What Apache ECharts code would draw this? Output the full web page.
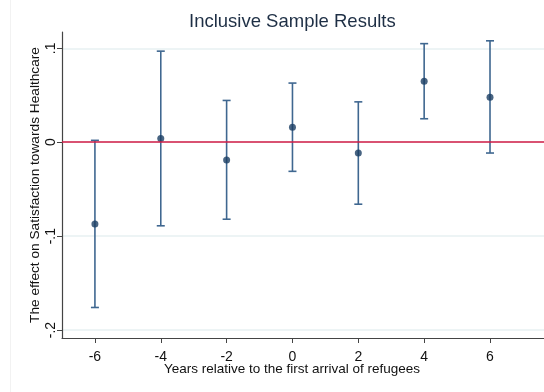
<!DOCTYPE html>
<html><head><meta charset="utf-8">
<script src="https://cdn.jsdelivr.net/npm/echarts@6/dist/echarts.min.js"></script>
<style>html,body{margin:0;padding:0;background:#fff}#c{width:544px;height:392px}</style>
</head><body><div id="c"></div>
<script>
const years = [-6, -4, -2, 0, 2, 4, 6];
const estimates = [-0.087, 0.004, -0.019, 0.016, -0.0115, 0.065, 0.048];
const upperCI = [0.002, 0.097, 0.0445, 0.063, 0.043, 0.105, 0.108];
const lowerCI = [-0.176, -0.089, -0.082, -0.031, -0.066, 0.025, -0.0115];
const xTicks = [-6, -4, -2, 0, 2, 4, 6];
const yTicks = [-0.2, -0.1, 0, 0.1];

function fmtY(v) {
  const r = Math.round(v * 10) / 10;
  if (r === 0) return '0';
  return (r < 0 ? '-' : '') + '.' + Math.round(Math.abs(r) * 10);
}

const barData = years.map((x, i) => [x, lowerCI[i], upperCI[i]]);
const pointData = years.map((x, i) => [x, estimates[i]]);

const chart = echarts.init(document.getElementById('c'), null, {renderer: 'canvas'});
chart.setOption({
  animation: false,
  backgroundColor: '#ffffff',
  title: {
    text: 'Inclusive Sample Results',
    left: 184, top: 7,
    textStyle: {fontFamily: 'Liberation Sans, Arial', fontSize: 18.5, fontWeight: 'normal', color: '#1e2f45'}
  },
  grid: {left: 62, top: 32, right: 0, bottom: 54, containLabel: false},
  xAxis: {
    type: 'value', min: -7, max: 7.64,
    interval: 2,
    name: 'Years relative to the first arrival of refugees',
    nameLocation: 'middle', nameGap: 24, nameMoveOverlap: false,
    nameTextStyle: {fontFamily: 'Liberation Sans, Arial', fontSize: 13.5, color: '#111', padding: [0, 22, 0, 0]},
    axisLine: {show: true, onZero: false, lineStyle: {color: '#444', width: 1.2}},
    axisTick: {show: true, length: 5, lineStyle: {color: '#444'}, customValues: xTicks},
    axisLabel: {fontFamily: 'Liberation Sans, Arial', fontSize: 14, color: '#111', margin: 12, customValues: xTicks},
    splitLine: {show: false}
  },
  yAxis: {
    type: 'value', min: -0.2085, max: 0.1174,
    name: 'The effect on Satisfaction towards Healthcare',
    nameLocation: 'middle', nameGap: 20, nameRotate: 90, nameMoveOverlap: false,
    nameTextStyle: {fontFamily: 'Liberation Sans, Arial', fontSize: 13.7, color: '#111'},
    axisLine: {show: true, onZero: false, lineStyle: {color: '#444', width: 1.2}},
    axisTick: {show: true, length: 5, lineStyle: {color: '#444'}, customValues: yTicks},
    axisLabel: {fontFamily: 'Liberation Sans, Arial', fontSize: 14, color: '#111', rotate: 90, margin: 4,
      customValues: yTicks, formatter: fmtY},
    splitLine: {show: true, lineStyle: {color: '#e7f0f2', width: 1.5}, customValues: yTicks}
  },
  series: [
    {
      type: 'custom',
      data: barData,
      encode: {x: 0, y: [1, 2]},
      z: 3,
      renderItem: function (params, api) {
        const x = api.value(0);
        const lo = api.coord([x, api.value(1)]);
        const hi = api.coord([x, api.value(2)]);
        const hw = 4;
        const st = {stroke: '#3f6790', lineWidth: 1.6};
        return {
          type: 'group',
          children: [
            {type: 'line', shape: {x1: lo[0], y1: lo[1], x2: hi[0], y2: hi[1]}, style: st},
            {type: 'line', shape: {x1: lo[0] - hw, y1: lo[1], x2: lo[0] + hw, y2: lo[1]}, style: st},
            {type: 'line', shape: {x1: hi[0] - hw, y1: hi[1], x2: hi[0] + hw, y2: hi[1]}, style: st}
          ]
        };
      }
    },
    {
      type: 'scatter',
      data: pointData,
      symbol: 'circle', symbolSize: 7,
      z: 4,
      itemStyle: {color: '#1a3d63'},
      markLine: {
        silent: true, symbol: 'none', label: {show: false},
        lineStyle: {color: '#d21c46', width: 1.6, type: 'solid'},
        data: [{yAxis: 0}]
      }
    }
  ],
  graphic: [
    {type: 'line', shape: {x1: 10.5, y1: 0, x2: 10.5, y2: 392}, style: {stroke: '#f2f2f2', lineWidth: 1}, silent: true}
  ]
});
</script>
</body></html>
